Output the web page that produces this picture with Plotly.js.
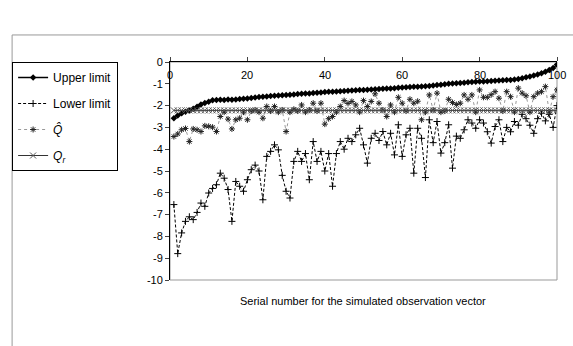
<!DOCTYPE html>
<html>
<head>
<meta charset="utf-8">
<script src="https://cdn.plot.ly/plotly-3.0.1.min.js"></script>
<style>html,body{margin:0;padding:0;background:#fff;}#chart{width:573px;height:346px;}</style>
</head>
<body>
<div id="chart"></div>
<script>
var upperLimit = [-2.58,-2.45,-2.35,-2.28,-2.22,-2.15,-2.05,-1.95,-1.88,-1.82,
-1.76,-1.74,-1.73,-1.74,-1.72,-1.73,-1.72,-1.70,-1.69,-1.68,
-1.65,-1.63,-1.60,-1.59,-1.58,-1.56,-1.55,-1.54,-1.52,-1.51,
-1.50,-1.49,-1.47,-1.46,-1.45,-1.44,-1.42,-1.41,-1.40,-1.38,
-1.37,-1.36,-1.35,-1.34,-1.33,-1.32,-1.31,-1.30,-1.29,-1.28,
-1.27,-1.26,-1.25,-1.24,-1.23,-1.22,-1.21,-1.20,-1.18,-1.17,
-1.16,-1.15,-1.14,-1.13,-1.12,-1.11,-1.10,-1.08,-1.06,-1.04,
-1.02,-1.00,-0.99,-0.97,-0.96,-0.95,-0.93,-0.92,-0.91,-0.90,
-0.89,-0.88,-0.87,-0.86,-0.85,-0.84,-0.83,-0.82,-0.80,-0.78,
-0.74,-0.70,-0.66,-0.62,-0.57,-0.52,-0.45,-0.37,-0.27,-0.12];

var lowerLimit = [-6.54,-8.79,-7.84,-7.31,-7.10,-7.23,-6.90,-6.47,-6.62,-6.01,
-5.80,-5.63,-5.10,-5.33,-5.85,-7.31,-5.48,-5.70,-5.93,-5.40,
-4.94,-4.73,-5.00,-6.32,-4.33,-4.10,-3.80,-4.03,-5.20,-5.93,
-6.24,-4.56,-4.10,-4.56,-4.20,-5.40,-3.65,-4.56,-4.10,-5.00,
-4.20,-5.70,-4.20,-3.65,-4.00,-3.50,-3.65,-3.34,-3.04,-3.80,
-4.64,-3.50,-3.27,-3.60,-3.19,-3.80,-3.27,-4.26,-2.88,-4.33,
-3.34,-3.04,-5.10,-3.04,-3.50,-5.30,-2.65,-3.70,-2.73,-4.18,
-3.70,-2.88,-4.87,-3.40,-3.50,-3.11,-2.65,-2.80,-3.04,-2.65,
-2.80,-3.20,-3.72,-2.96,-2.65,-3.65,-3.00,-3.20,-2.73,-2.90,
-2.40,-2.60,-2.90,-3.27,-2.60,-2.35,-2.70,-2.40,-3.00,-2.00];

var qHat = [-3.42,-3.30,-3.11,-3.05,-3.65,-3.07,-3.11,-3.19,-2.93,-2.95,
-2.99,-3.19,-2.50,-2.30,-2.62,-3.07,-2.65,-2.58,-2.30,-2.65,
-2.25,-2.20,-2.30,-2.58,-2.04,-2.25,-2.04,-2.30,-2.20,-3.19,
-2.30,-2.17,-2.25,-1.97,-2.30,-2.20,-1.89,-2.25,-1.89,-2.85,
-2.60,-2.50,-2.30,-2.04,-1.77,-1.90,-1.81,-1.97,-2.30,-1.77,
-2.04,-1.81,-1.46,-1.89,-2.20,-2.50,-1.97,-2.30,-1.62,-1.89,
-2.25,-1.71,-1.89,-1.80,-2.65,-2.30,-1.51,-2.20,-1.43,-2.30,
-2.25,-1.71,-1.86,-1.95,-1.89,-1.51,-1.71,-1.51,-2.30,-1.28,
-1.62,-1.62,-1.50,-1.36,-1.66,-2.25,-1.36,-1.59,-2.30,-1.20,
-1.43,-1.55,-2.30,-1.59,-1.43,-1.36,-1.13,-2.30,-1.59,-1.28];

var qR = [-2.22,-2.22,-2.22,-2.22,-2.22,-2.22,-2.22,-2.22,-2.22,-2.22,
-2.22,-2.22,-2.22,-2.22,-2.22,-2.22,-2.22,-2.22,-2.22,-2.22,
-2.22,-2.22,-2.22,-2.22,-2.22,-2.22,-2.22,-2.22,-2.22,-2.22,
-2.22,-2.22,-2.22,-2.22,-2.22,-2.22,-2.22,-2.22,-2.22,-2.22,
-2.22,-2.22,-2.22,-2.22,-2.22,-2.22,-2.22,-2.22,-2.22,-2.22,
-2.22,-2.22,-2.22,-2.22,-2.22,-2.22,-2.22,-2.22,-2.22,-2.22,
-2.22,-2.22,-2.22,-2.22,-2.22,-2.22,-2.22,-2.22,-2.22,-2.22,
-2.22,-2.22,-2.22,-2.22,-2.22,-2.22,-2.22,-2.22,-2.22,-2.22,
-2.22,-2.22,-2.22,-2.22,-2.22,-2.22,-2.22,-2.22,-2.22,-2.22,
-2.22,-2.22,-2.22,-2.22,-2.22,-2.22,-2.22,-2.22,-2.22,-2.22];

var seriesNames = ["Upper limit", "Lower limit", "<i>Q\u0302</i>", "<i>Q</i><sub><i>r</i></sub>"];
var xTickVals = [0, 20, 40, 60, 80, 100];
var xTickText = ["0", "20", "40", "60", "80", "100"];
var yTickVals = [0, -1, -2, -3, -4, -5, -6, -7, -8, -9, -10];
var yTickText = ["0", "-1", "-2", "-3", "-4", "-5", "-6", "-7", "-8", "-9", "-10"];
var xTitle = "Serial number for the simulated observation vector";

var serial = upperLimit.map(function(_, i){ return i + 1; });

var traces = [
  {x: serial, y: upperLimit, name: seriesNames[0], legendgroup: "a", mode: "lines+markers",
   line: {color: "#000", width: 1.5}, marker: {symbol: "diamond", size: 5, color: "#000"}},
  {x: serial, y: lowerLimit, name: seriesNames[1], legendgroup: "b", mode: "lines+markers",
   line: {color: "#000", width: 1, dash: "3px,2px"}, marker: {symbol: "cross-thin-open", size: 5, color: "#000", line: {color: "#000", width: 1}}},
  {x: serial, y: qHat, name: seriesNames[2], legendgroup: "c", mode: "lines+markers",
   line: {color: "#999", width: 1, dash: "dot"}, marker: {symbol: "asterisk-open", size: 5, color: "#222", line: {color: "#222", width: 1}}},
  {x: serial, y: qR, name: seriesNames[3], legendgroup: "d", mode: "lines+markers",
   line: {color: "#333", width: 1}, marker: {symbol: "x-thin-open", size: 6, color: "#555", line: {color: "#555", width: 1}}}
];

var tickAnnotations = xTickVals.map(function(v, i){
  return {text: xTickText[i], xref: "x", yref: "paper", x: v, y: 1, yshift: -13,
          showarrow: false, xanchor: "center", yanchor: "middle", font: {size: 11, color: "#000"}};
});

var layout = {
  width: 573, height: 346,
  margin: {l: 170, r: 16, t: 62, b: 66},
  paper_bgcolor: "#fff", plot_bgcolor: "#fff",
  font: {family: "Arial, Liberation Sans, sans-serif", size: 11, color: "#000"},
  showlegend: true,
  legend: {x: -0.408, y: 1, xanchor: "left", yanchor: "top", bordercolor: "#000", borderwidth: 1,
           bgcolor: "#fff", font: {size: 12}, traceorder: "grouped", tracegroupgap: 7},
  xaxis: {range: [0, 100], side: "top", tickvals: xTickVals, ticks: "outside", ticklen: 4,
          showticklabels: false, showline: true, linecolor: "#000", linewidth: 1,
          showgrid: false, zeroline: false},
  yaxis: {range: [-10, 0], tickvals: yTickVals, ticktext: yTickText, ticks: "outside", ticklen: 4,
          showline: true, linecolor: "#000", linewidth: 1, showgrid: false, zeroline: false,
          tickfont: {size: 11, color: "#000"}},
  shapes: [
    {type: "rect", xref: "paper", yref: "paper", x0: 0, x1: 1, y0: 0, y1: 1,
     line: {color: "#999", width: 1}, layer: "below"},
    {type: "line", xref: "paper", yref: "paper", x0: -0.408, x1: 1.05, y0: 1.124, y1: 1.124,
     line: {color: "#999", width: 1}},
    {type: "line", xref: "paper", yref: "paper", x0: -0.408, x1: -0.408, y0: -0.35, y1: 1.124,
     line: {color: "#999", width: 1}}
  ],
  annotations: tickAnnotations.concat([
    {text: xTitle, xref: "paper", yref: "paper", x: 0.4987, y: -0.096, showarrow: false,
     xanchor: "center", yanchor: "middle", font: {size: 11, color: "#000"}}
  ])
};

Plotly.newPlot("chart", traces, layout, {displayModeBar: false, staticPlot: true});
</script>
</body>
</html>
